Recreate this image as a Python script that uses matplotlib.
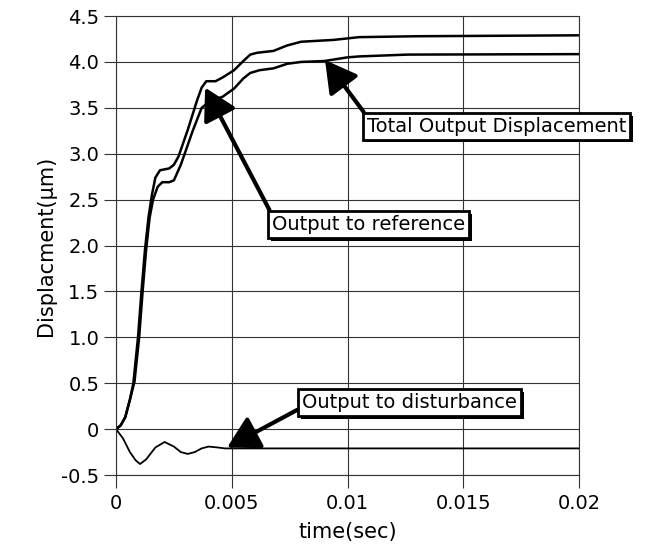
import numpy as np
import matplotlib
matplotlib.use("Agg")
import matplotlib.pyplot as plt
import matplotlib.patheffects as pe

# output to reference (upper curve)
t_ref = [0, 0.0002, 0.0004, 0.0006, 0.00075, 0.00095, 0.0011, 0.00125, 0.0014, 0.00155,
         0.0017, 0.0019, 0.0021, 0.0023, 0.0025, 0.0027, 0.0031, 0.0035, 0.0037, 0.0039,
         0.0043, 0.0046, 0.0051, 0.0055, 0.0058, 0.0061, 0.0068, 0.0074, 0.008, 0.0094,
         0.0105, 0.013, 0.02]
y_ref = [0, 0.04, 0.13, 0.32, 0.5, 1.0, 1.5, 1.95, 2.3, 2.55,
         2.74, 2.82, 2.83, 2.84, 2.88, 2.97, 3.26, 3.58, 3.72, 3.79,
         3.79, 3.83, 3.91, 4.01, 4.08, 4.10, 4.12, 4.18, 4.22, 4.24,
         4.27, 4.28, 4.29]

# total output displacement (lower curve)
t_tot = [0, 0.0002, 0.0004, 0.0006, 0.0008, 0.001, 0.00115, 0.0013, 0.00145, 0.0016,
         0.0018, 0.002, 0.0023, 0.0025, 0.0028, 0.0033, 0.0037, 0.0041, 0.0046, 0.0051,
         0.0055, 0.0058, 0.0062, 0.0068, 0.0074, 0.008, 0.009, 0.01, 0.0105, 0.0126, 0.02]
y_tot = [0, 0.04, 0.13, 0.32, 0.52, 1.0, 1.5, 1.95, 2.3, 2.5,
         2.64, 2.69, 2.69, 2.71, 2.88, 3.24, 3.5, 3.58, 3.62, 3.71,
         3.82, 3.88, 3.91, 3.93, 3.98, 4.0, 4.01, 4.05, 4.06, 4.08, 4.085]

# output to disturbance
t_dist = [0, 0.0003, 0.0006, 0.00085, 0.00104, 0.0013, 0.0017, 0.0021, 0.0025, 0.0028,
          0.0031, 0.0034, 0.0037, 0.004, 0.0044, 0.0047, 0.006, 0.008, 0.02]
y_dist = [0, -0.1, -0.25, -0.34, -0.38, -0.33, -0.2, -0.14, -0.19, -0.25,
          -0.27, -0.25, -0.21, -0.19, -0.2, -0.21, -0.21, -0.21, -0.21]

x_ticks = [0, 0.005, 0.01, 0.015, 0.02]
x_ticklabels = ["0", "0.005", "0.01", "0.015", "0.02"]
y_ticks = [-0.5, 0, 0.5, 1.0, 1.5, 2.0, 2.5, 3.0, 3.5, 4.0, 4.5]
y_ticklabels = ["-0.5", "0", "0.5", "1.0", "1.5", "2.0", "2.5", "3.0", "3.5", "4.0", "4.5"]

fig = plt.figure(figsize=(6.64, 5.53), dpi=100)
ax = fig.add_axes([0.1747, 0.141, 0.6973, 0.830])

ax.plot(t_ref, y_ref, color="k", lw=1.8, solid_joinstyle="round")
ax.plot(t_tot, y_tot, color="k", lw=1.8, solid_joinstyle="round")
ax.plot(t_dist, y_dist, color="k", lw=1.3, solid_joinstyle="round")

ax.set_xlim(0, 0.02)
ax.set_ylim(-0.5, 4.5)
ax.set_xticks(x_ticks)
ax.set_xticklabels(x_ticklabels)
ax.set_yticks(y_ticks)
ax.set_yticklabels(y_ticklabels)
ax.tick_params(axis="x", direction="out", length=9, width=0.8, color="0.2", pad=5, labelsize=14)
ax.tick_params(axis="y", direction="out", length=9, width=0.8, color="0.2", pad=3, labelsize=14)
ax.grid(True, color="0.2", lw=0.8)
for s in ax.spines.values():
    s.set_color("0.2")
    s.set_linewidth(0.8)

ax.set_xlabel("time(sec)", fontsize=15, labelpad=6)
ax.set_ylabel("Displacment(\u00b5m)", fontsize=15, labelpad=4)

box = dict(boxstyle="square,pad=0.2", fc="white", ec="k", lw=2)
arrow = dict(arrowstyle="-|>,head_length=0.8,head_width=0.45", lw=3, color="k",
             shrinkA=0, shrinkB=0, mutation_scale=24)

labels = [
    ("Total Output Displacement", (0.00903, 4.02), (0.01085, 3.30), (0.0, 1.0)),
    ("Output to reference", (0.00385, 3.72), (0.00674, 2.23), (0.0, 1.0)),
    ("Output to disturbance", (0.0048, -0.20), (0.00804, 0.29), (0.0, 0.25)),
]
for text, xy, xytext, rp in labels:
    a = dict(arrow)
    a["relpos"] = rp
    ann = ax.annotate(text, xy=xy, xytext=xytext, ha="left", va="center", fontsize=14,
                      bbox=box, arrowprops=a, annotation_clip=False, zorder=5)
    ann.get_bbox_patch().set_path_effects(
        [pe.SimplePatchShadow(offset=(2, -2), shadow_rgbFace="k", alpha=1), pe.Normal()])

fig.savefig("out.png", dpi=100)
